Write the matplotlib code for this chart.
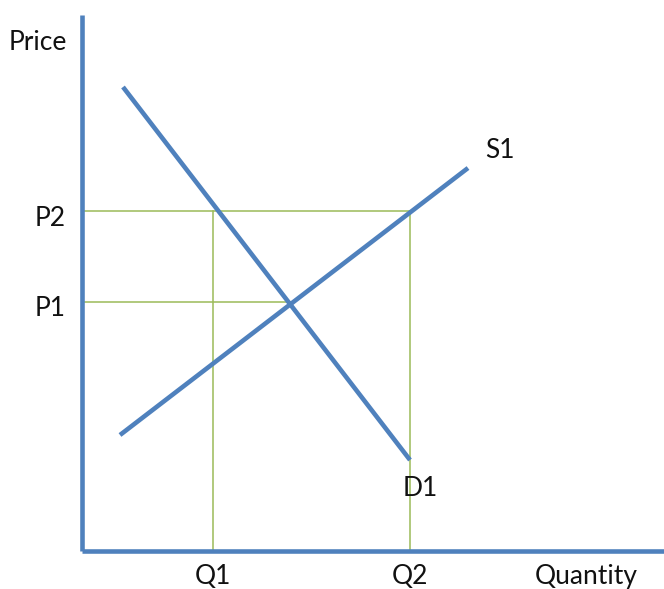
import matplotlib
matplotlib.use("Agg")
import matplotlib.pyplot as plt
import matplotlib.patheffects as pe
import numpy as np

# ---- data (chart units, origin at the axis corner) ----
demand_q = [41, 328]
demand_p = [464, 91]
supply_q = [38, 386]
supply_p = [116, 383]
Q1, Q2 = 131, 328
P1, P2 = 249, 340
axis_top = 536
axis_right = 582
price_labels = ["P1", "P2"]
qty_labels = ["Q1", "Q2"]

BLUE = "#4F81BD"
GREEN = "#9BBB59"
FONT = "Lato"

fig = plt.figure(figsize=(6.64, 5.89), dpi=100)
ax = fig.add_axes([0, 0, 1, 1])
ax.set_xlim(-82, 582)
ax.set_ylim(-38, 551)
ax.axis("off")

shadow = [pe.SimplePatchShadow(offset=(0.8, -0.8), alpha=0.25, shadow_rgbFace="k"), pe.Normal()]

# intersection of demand and supply
md = (demand_p[1] - demand_p[0]) / (demand_q[1] - demand_q[0])
ms = (supply_p[1] - supply_p[0]) / (supply_q[1] - supply_q[0])
xi = (supply_p[0] - ms * supply_q[0] - demand_p[0] + md * demand_q[0]) / (md - ms)

# guide lines
glw = 1.1
ax.plot([0, Q2], [P2, P2], color=GREEN, lw=glw, zorder=2)
ax.plot([0, xi], [P1, P1], color=GREEN, lw=glw, zorder=2)
ax.plot([Q1, Q1], [0, P2], color=GREEN, lw=glw, zorder=2)
ax.plot([Q2, Q2], [0, P2], color=GREEN, lw=glw, zorder=2)

# axes
blw = 3.3
ax.plot([0, 0], [0, axis_top], color=BLUE, lw=blw, solid_capstyle="butt", zorder=3,
        path_effects=shadow)
ax.plot([0, axis_right], [0, 0], color=BLUE, lw=blw, solid_capstyle="butt", zorder=3,
        path_effects=shadow)

# curves
ax.plot(demand_q, demand_p, color=BLUE, lw=blw, solid_capstyle="butt", zorder=4,
        path_effects=shadow)
ax.plot(supply_q, supply_p, color=BLUE, lw=blw, solid_capstyle="butt", zorder=4,
        path_effects=shadow)

fs = 19
tc = "#111111"
ax.text(-44, 508, "Price", fontsize=fs, family=FONT, color=tc, ha="center", va="center")
for lab, p in zip(price_labels, [P1, P2]):
    ax.text(-16, p - 7, lab, fontsize=fs, family=FONT, color=tc, ha="right", va="center")
for lab, q in zip(qty_labels, [Q1, Q2]):
    ax.text(q, -33, lab, fontsize=fs, family=FONT, color=tc, ha="center", va="baseline")
ax.text(504, -33, "Quantity", fontsize=fs, family=FONT, color=tc, ha="center", va="baseline")
ax.text(418, 400, "S1", fontsize=fs, family=FONT, color=tc, ha="center", va="center")
ax.text(338, 63, "D1", fontsize=fs, family=FONT, color=tc, ha="center", va="center")

fig.savefig("out.png", dpi=100, facecolor="white")
